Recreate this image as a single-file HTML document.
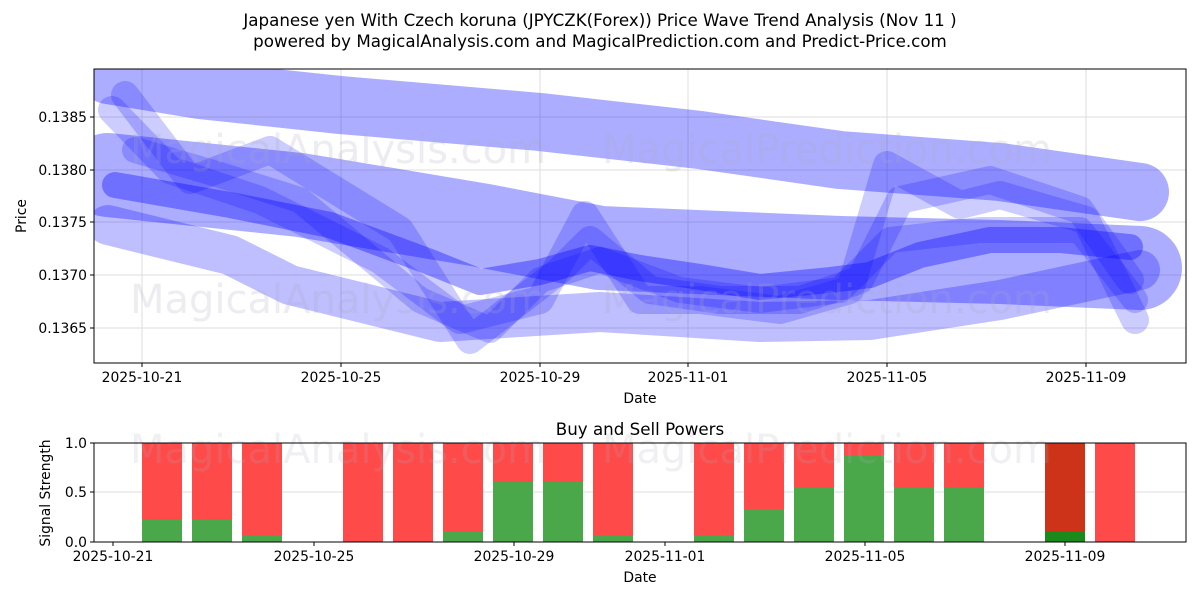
<!DOCTYPE html>
<html><head><style>
body{margin:0;background:#fff;}
svg text{font-family:"DejaVu Sans","Liberation Sans",sans-serif;fill:#000;}
</style></head><body>
<svg width="1200" height="600" xmlns="http://www.w3.org/2000/svg">
<text x="600" y="26" font-size="16.7" text-anchor="middle">Japanese yen With Czech koruna (JPYCZK(Forex)) Price Wave Trend Analysis (Nov 11 )</text>
<text x="600" y="47" font-size="16.7" text-anchor="middle">powered by MagicalAnalysis.com and MagicalPrediction.com and Predict-Price.com</text>
<defs><clipPath id="c1"><rect x="94" y="69" width="1092" height="294"/></clipPath></defs>
<g stroke="#ddd" stroke-width="1">
<line x1="94" x2="1186" y1="117" y2="117"/><line x1="94" x2="1186" y1="170" y2="170"/><line x1="94" x2="1186" y1="222" y2="222"/><line x1="94" x2="1186" y1="275" y2="275"/><line x1="94" x2="1186" y1="328" y2="328"/>
<line x1="142" x2="142" y1="69" y2="363"/><line x1="341" x2="341" y1="69" y2="363"/><line x1="540" x2="540" y1="69" y2="363"/><line x1="688" x2="688" y1="69" y2="363"/><line x1="887" x2="887" y1="69" y2="363"/><line x1="1086" x2="1086" y1="69" y2="363"/>
</g>
<g clip-path="url(#c1)" fill="none" stroke-linejoin="round" stroke-linecap="round">
<polyline stroke="rgba(0,0,255,0.32)" stroke-width="58" points="108,75 200,90 340,105 540,122 700,140 840,160 1000,172 1140,192"/>
<polyline stroke="rgba(0,0,255,0.32)" stroke-width="84" points="108,175 300,195 480,225 600,248 840,258 1000,262 1140,268"/>
<polyline stroke="rgba(0,0,255,0.25)" stroke-width="40" points="108,225 230,255 290,285 440,322 600,312 760,322 870,320 1000,300 1140,270"/>
<polyline stroke="rgba(0,0,255,0.2)" stroke-width="28" points="112,110 170,170 260,200 380,260 460,320 540,300 585,215 640,300 700,300 780,310 850,290 887,165 960,205 1000,195 1086,220 1135,320"/>
<polyline stroke="rgba(0,0,255,0.2)" stroke-width="28" points="125,95 190,180 270,150 400,230 470,340 560,270 590,240 650,290 720,300 800,300 860,280 900,200 990,180 1080,210 1130,280"/>
<polyline stroke="rgba(0,0,255,0.2)" stroke-width="26" points="135,150 220,175 300,200 420,300 490,330 540,280 600,260 680,290 760,300 840,290 890,240 980,230 1080,230 1135,300"/>
<polyline stroke="rgba(0,0,255,0.35)" stroke-width="26" points="115,185 230,205 330,225 430,262 480,282 540,272 590,258 640,268 700,277 760,287 830,280 870,275 920,255 990,240 1060,240 1130,247"/>
</g>
<g font-size="40">
<text x="130" y="163" style="fill:rgba(170,170,190,0.22)">MagicalAnalysis.com</text>
<text x="602" y="163" style="fill:rgba(170,170,190,0.22)">MagicalPrediction.com</text>
<text x="130" y="313" style="fill:rgba(170,170,190,0.22)">MagicalAnalysis.com</text>
<text x="602" y="313" style="fill:rgba(170,170,190,0.22)">MagicalPrediction.com</text>
</g>
<rect x="94" y="69" width="1092" height="294" fill="none" stroke="#000" stroke-width="1"/>
<g font-size="13.9" text-anchor="end">
<text x="87" y="122">0.1385</text><text x="87" y="175">0.1380</text><text x="87" y="227">0.1375</text><text x="87" y="280">0.1370</text><text x="87" y="333">0.1365</text>
</g>
<g stroke="#000"><line x1="90" x2="94" y1="117" y2="117"/><line x1="90" x2="94" y1="170" y2="170"/><line x1="90" x2="94" y1="222" y2="222"/><line x1="90" x2="94" y1="275" y2="275"/><line x1="90" x2="94" y1="328" y2="328"/>
<line x1="142" x2="142" y1="363" y2="367"/><line x1="341" x2="341" y1="363" y2="367"/><line x1="540" x2="540" y1="363" y2="367"/><line x1="688" x2="688" y1="363" y2="367"/><line x1="887" x2="887" y1="363" y2="367"/><line x1="1086" x2="1086" y1="363" y2="367"/></g>
<g font-size="13.9" text-anchor="middle">
<text x="142" y="382">2025-10-21</text><text x="341" y="382">2025-10-25</text><text x="540" y="382">2025-10-29</text><text x="688" y="382">2025-11-01</text><text x="887" y="382">2025-11-05</text><text x="1086" y="382">2025-11-09</text>
<text x="640" y="403">Date</text>
<text transform="translate(26,216) rotate(-90)">Price</text>
<text x="640" y="435" font-size="16.7">Buy and Sell Powers</text>
</g>
<line x1="94" x2="1186" y1="492" y2="492" stroke="#ddd"/>
<g>
<rect x="142" y="443" width="40" height="99" fill="#ff4a4a"/><rect x="142" y="520" width="40" height="22" fill="#4aa84a"/>
<rect x="192" y="443" width="40" height="99" fill="#ff4a4a"/><rect x="192" y="520" width="40" height="22" fill="#4aa84a"/>
<rect x="242" y="443" width="40" height="99" fill="#ff4a4a"/><rect x="242" y="536" width="40" height="6" fill="#4aa84a"/>
<rect x="343" y="443" width="40" height="99" fill="#ff4a4a"/>
<rect x="393" y="443" width="40" height="99" fill="#ff4a4a"/>
<rect x="443" y="443" width="40" height="99" fill="#ff4a4a"/><rect x="443" y="531" width="40" height="11" fill="#4aa84a"/>
<rect x="493" y="443" width="40" height="99" fill="#ff4a4a"/><rect x="493" y="482" width="40" height="60" fill="#4aa84a"/>
<rect x="543" y="443" width="40" height="99" fill="#ff4a4a"/><rect x="543" y="482" width="40" height="60" fill="#4aa84a"/>
<rect x="593" y="443" width="40" height="99" fill="#ff4a4a"/><rect x="593" y="536" width="40" height="6" fill="#4aa84a"/>
<rect x="694" y="443" width="40" height="99" fill="#ff4a4a"/><rect x="694" y="536" width="40" height="6" fill="#4aa84a"/>
<rect x="744" y="443" width="40" height="99" fill="#ff4a4a"/><rect x="744" y="509" width="40" height="33" fill="#4aa84a"/>
<rect x="794" y="443" width="40" height="99" fill="#ff4a4a"/><rect x="794" y="487" width="40" height="55" fill="#4aa84a"/>
<rect x="844" y="443" width="40" height="99" fill="#ff4a4a"/><rect x="844" y="455" width="40" height="87" fill="#4aa84a"/>
<rect x="894" y="443" width="40" height="99" fill="#ff4a4a"/><rect x="894" y="487" width="40" height="55" fill="#4aa84a"/>
<rect x="944" y="443" width="40" height="99" fill="#ff4a4a"/><rect x="944" y="487" width="40" height="55" fill="#4aa84a"/>
<rect x="1045" y="443" width="40" height="99" fill="#cc3318"/><rect x="1045" y="531" width="40" height="11" fill="#1a8a1a"/>
<rect x="1095" y="443" width="40" height="99" fill="#ff4a4a"/>
</g>
<g font-size="40">
<text x="130" y="463" style="fill:rgba(170,170,190,0.18)">MagicalAnalysis.com</text>
<text x="602" y="463" style="fill:rgba(170,170,190,0.18)">MagicalPrediction.com</text>
</g>
<rect x="94" y="443" width="1092" height="99" fill="none" stroke="#000"/>
<g stroke="#000"><line x1="90" x2="94" y1="443" y2="443"/><line x1="90" x2="94" y1="492" y2="492"/><line x1="90" x2="94" y1="542" y2="542"/>
<line x1="113" x2="113" y1="542" y2="546"/><line x1="314" x2="314" y1="542" y2="546"/><line x1="514" x2="514" y1="542" y2="546"/><line x1="665" x2="665" y1="542" y2="546"/><line x1="865" x2="865" y1="542" y2="546"/><line x1="1065" x2="1065" y1="542" y2="546"/></g>
<g font-size="13.9" text-anchor="end"><text x="87" y="448">1.0</text><text x="87" y="497">0.5</text><text x="87" y="547">0.0</text></g>
<g font-size="13.9" text-anchor="middle">
<text x="113" y="561">2025-10-21</text><text x="314" y="561">2025-10-25</text><text x="514" y="561">2025-10-29</text><text x="665" y="561">2025-11-01</text><text x="865" y="561">2025-11-05</text><text x="1065" y="561">2025-11-09</text>
<text x="640" y="582">Date</text>
<text transform="translate(50,493) rotate(-90)">Signal Strength</text>
</g>
</svg>
</body></html>
